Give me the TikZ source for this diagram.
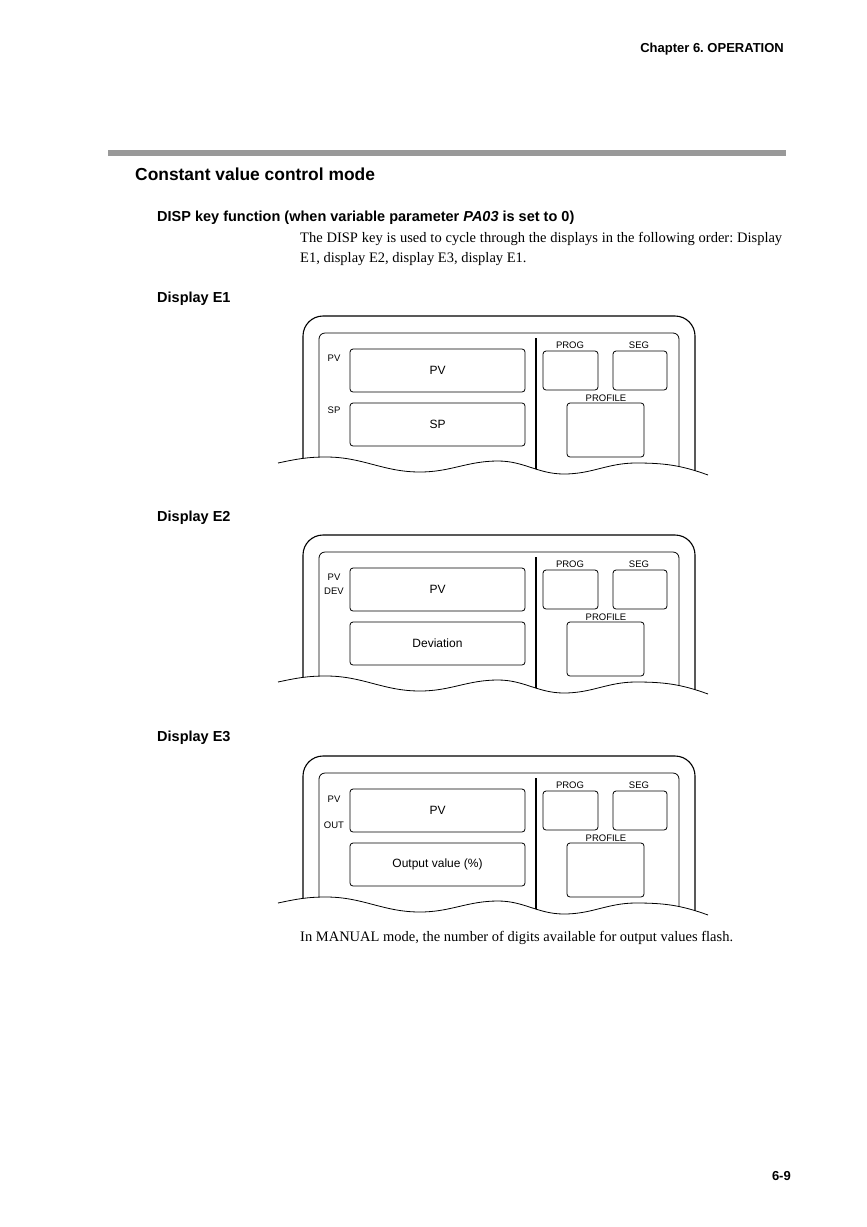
\documentclass[tikz,border=0pt]{standalone}
\usepackage{fontspec}
\setmainfont{Liberation Serif}
\setsansfont{Liberation Sans}
\frenchspacing
\newcommand\mywavepath{(278,463) to[out=12,in=180] (326,457) to[out=0,in=180] (420,472) to[out=0,in=180] (498,461) to[out=0,in=180] (564,474) to[out=0,in=180] (636,463) to[out=0,in=160] (708,475)}
\begin{document}
\begin{tikzpicture}[x=1pt,y=-1pt,
  hdr/.style={font=\sffamily\bfseries\fontsize{13}{15}\selectfont, inner sep=0pt},
  ttl/.style={font=\sffamily\bfseries\fontsize{17.4}{20}\selectfont, inner sep=0pt, anchor=base west},
  sub/.style={font=\sffamily\bfseries\fontsize{14.5}{17}\selectfont, inner sep=0pt, anchor=base west},
  body/.style={font=\fontsize{14.5}{17}\selectfont, inner sep=0pt, anchor=base west},
  frame/.style={line width=1.1pt, rounded corners=20pt},
  inframe/.style={line width=0.8pt, rounded corners=6pt},
  divider/.style={line width=1.3pt},
  dispbox/.style={draw, line width=0.8pt, rounded corners=3pt, inner sep=0pt,
     minimum width=175pt, minimum height=43pt, font=\sffamily\fontsize{12}{14}\selectfont},
  smallbox/.style={draw, line width=0.8pt, rounded corners=3pt, inner sep=0pt},
  lbl/.style={font=\sffamily\fontsize{9.5}{10}\selectfont, inner sep=0pt},
  wave/.style={line width=0.8pt}
]
\useasboundingbox (0,0) rectangle (867,1227);
\fill[white] (0,0) rectangle (867,1227);

\node[hdr, anchor=base east] (chap) at (784,52) {Chapter 6. OPERATION};
\fill[black!40] (108,150) rectangle (786,156);
\node[ttl] (title) at (135,180) {Constant value control mode};
\node[sub] (disp) at (157,221) {DISP key function (when variable parameter \textit{PA03} is set to 0)};
\node[body] (b1) at (300,242) {\makebox[482pt][s]{The DISP key is used to cycle through the displays in the following order: Display}};
\node[body] (b2) at (300,262) {E1, display E2, display E3, display E1.};

\node[sub] (e1t) at (157,302) {Display E1};
\node[sub] (e2t) at (157,521) {Display E2};
\node[sub] (e3t) at (157,741) {Display E3};

\foreach \i/\dy/\lowtxt in {1/0/SP, 2/219/Deviation, 3/440/Output value (\%)} {
  \begin{scope}[shift={(0,\dy)}]
    \begin{scope}
      \clip \mywavepath -- (720,475) -- (720,300) -- (260,300) -- (260,463) -- cycle;
      \draw[frame] (303,490) -- (303,316) -- (695,316) -- (695,490);
      \draw[inframe] (319,490) -- (319,333) -- (679,333) -- (679,490);
      \draw[divider] (536,338) -- (536,490);
    \end{scope}
    \draw[wave] \mywavepath;
    \node[dispbox] (pv\i) at (437.5,370.5) {PV};
    \node[dispbox] (low\i) at (437.5,424.5) {\lowtxt};
    \node[smallbox, minimum width=55pt, minimum height=39pt] (prog\i) at (570.5,370.5) {};
    \node[smallbox, minimum width=54pt, minimum height=39pt] (seg\i) at (640,370.5) {};
    \node[smallbox, minimum width=77pt, minimum height=54pt] (prof\i) at (605.5,430) {};
    \node[lbl, anchor=base] (progl\i) at (570,348) {PROG};
    \node[lbl, anchor=base] (segl\i) at (639,348) {SEG};
    \node[lbl, anchor=base] (profl\i) at (606,401) {PROFILE};
  \end{scope}
}
\node[lbl] (l1a) at (334,358) {PV};
\node[lbl] (l1b) at (334,410) {SP};
\node[lbl] (l2a) at (334,577) {PV};
\node[lbl] (l2b) at (334,591) {DEV};
\node[lbl] (l3a) at (334,799) {PV};
\node[lbl] (l3b) at (334,825) {OUT};

\node[body] (manual) at (300,941) {In MANUAL mode, the number of digits available for output values flash.};
\node[hdr, anchor=base east] (pg) at (791,1180) {6-9};
\end{tikzpicture}
\end{document}
